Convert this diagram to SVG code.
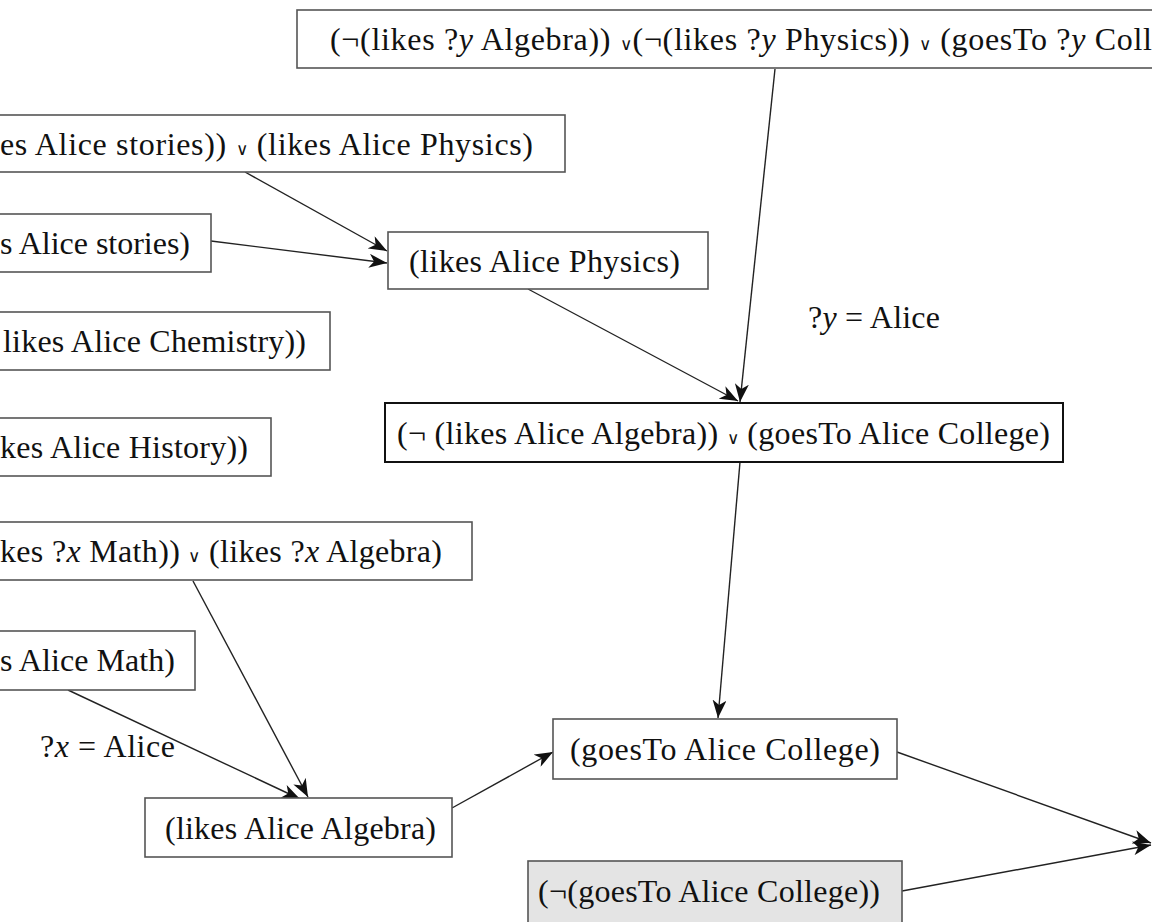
<svg xmlns="http://www.w3.org/2000/svg" width="1152" height="922" viewBox="0 0 1152 922">
<defs>
<style>
.box{fill:#fff;stroke:#555;stroke-width:1.6}
.boxk{fill:#fff;stroke:#111;stroke-width:2}
.boxg{fill:#e4e4e4;stroke:#555;stroke-width:1.6}
.t{font-family:"Liberation Serif","Times New Roman",serif;font-size:32px;fill:#111}
.or{font-size:17px}
.it{font-style:italic}
.edge{fill:none;stroke:#222;stroke-width:1.4}
</style>
<marker id="ah" markerUnits="userSpaceOnUse" markerWidth="20" markerHeight="14" refX="18" refY="7" orient="auto">
<path d="M0,0 L18,7 L0,14 L5,7 Z" fill="#111"/>
</marker>
</defs>
<rect width="1152" height="922" fill="#fff"/>
<g id="connectors">
<line class="edge" x1="775" y1="69" x2="740" y2="402" marker-end="url(#ah)"/>
<line class="edge" x1="245" y1="172" x2="387" y2="251" marker-end="url(#ah)"/>
<line class="edge" x1="211" y1="241" x2="387" y2="263" marker-end="url(#ah)"/>
<line class="edge" x1="528" y1="289" x2="738" y2="401" marker-end="url(#ah)"/>
<line class="edge" x1="740" y1="462" x2="718" y2="718" marker-end="url(#ah)"/>
<line class="edge" x1="193" y1="581" x2="308" y2="797" marker-end="url(#ah)"/>
<line class="edge" x1="68" y1="690" x2="300" y2="799" marker-end="url(#ah)"/>
<line class="edge" x1="452" y1="808" x2="553" y2="752" marker-end="url(#ah)"/>
<line class="edge" x1="897" y1="752" x2="1151" y2="843" marker-end="url(#ah)"/>
<line class="edge" x1="902" y1="891" x2="1151" y2="845" marker-end="url(#ah)"/>
</g>
<g id="nodeA">
<rect class="box" x="297" y="10" width="900" height="58"/>
<text class="t" x="330" y="50" textLength="822" lengthAdjust="spacing">(¬(likes ?<tspan class="it">y</tspan> Algebra)) <tspan class="or">∨</tspan>(¬(likes ?<tspan class="it">y</tspan> Physics)) <tspan class="or">∨</tspan> (goesTo ?<tspan class="it">y</tspan> Coll</text>
</g>
<g id="nodeB">
<rect class="box" x="-10" y="115" width="575" height="57"/>
<text class="t" x="0" y="155" textLength="533" lengthAdjust="spacing">es Alice stories)) <tspan class="or">∨</tspan> (likes Alice Physics)</text>
</g>
<g id="nodeC">
<rect class="box" x="-10" y="214" width="221" height="58"/>
<text class="t" x="0" y="254" textLength="190" lengthAdjust="spacing">s Alice stories)</text>
</g>
<g id="nodeD">
<rect class="box" x="388" y="232" width="320" height="57"/>
<text class="t" x="409" y="272" textLength="271" lengthAdjust="spacing">(likes Alice Physics)</text>
</g>
<g id="nodeE">
<rect class="box" x="-10" y="312" width="340" height="58"/>
<text class="t" x="3" y="352" textLength="303" lengthAdjust="spacing">likes Alice Chemistry))</text>
</g>
<g id="nodeF">
<rect class="box" x="-10" y="418" width="281" height="58"/>
<text class="t" x="0" y="458" textLength="248" lengthAdjust="spacing">kes Alice History))</text>
</g>
<g id="nodeG">
<rect class="boxk" x="385" y="403" width="678" height="59"/>
<text class="t" x="397" y="444" textLength="653" lengthAdjust="spacing">(¬ (likes Alice Algebra)) <tspan class="or">∨</tspan> (goesTo Alice College)</text>
</g>
<g id="nodeH">
<rect class="box" x="-10" y="522" width="482" height="58"/>
<text class="t" x="0" y="562" textLength="442" lengthAdjust="spacing">kes ?<tspan class="it">x</tspan> Math)) <tspan class="or">∨</tspan> (likes ?<tspan class="it">x</tspan> Algebra)</text>
</g>
<g id="nodeI">
<rect class="box" x="-10" y="631" width="205" height="59"/>
<text class="t" x="0" y="671" textLength="175" lengthAdjust="spacing">s Alice Math)</text>
</g>
<g id="nodeJ">
<rect class="box" x="145" y="798" width="307" height="59"/>
<text class="t" x="165" y="839" textLength="271" lengthAdjust="spacing">(likes Alice Algebra)</text>
</g>
<g id="nodeK">
<rect class="box" x="553" y="719" width="344" height="60"/>
<text class="t" x="570" y="760" textLength="310" lengthAdjust="spacing">(goesTo Alice College)</text>
</g>
<g id="nodeL">
<rect class="boxg" x="528" y="861" width="374" height="62"/>
<text class="t" x="538" y="902" textLength="342" lengthAdjust="spacing">(¬(goesTo Alice College))</text>
</g>
<g id="labels">
<text class="t" x="808" y="328" textLength="132" lengthAdjust="spacing">?<tspan class="it">y</tspan> = Alice</text>
<text class="t" x="40" y="757" textLength="135" lengthAdjust="spacing">?<tspan class="it">x</tspan> = Alice</text>
</g>
</svg>
